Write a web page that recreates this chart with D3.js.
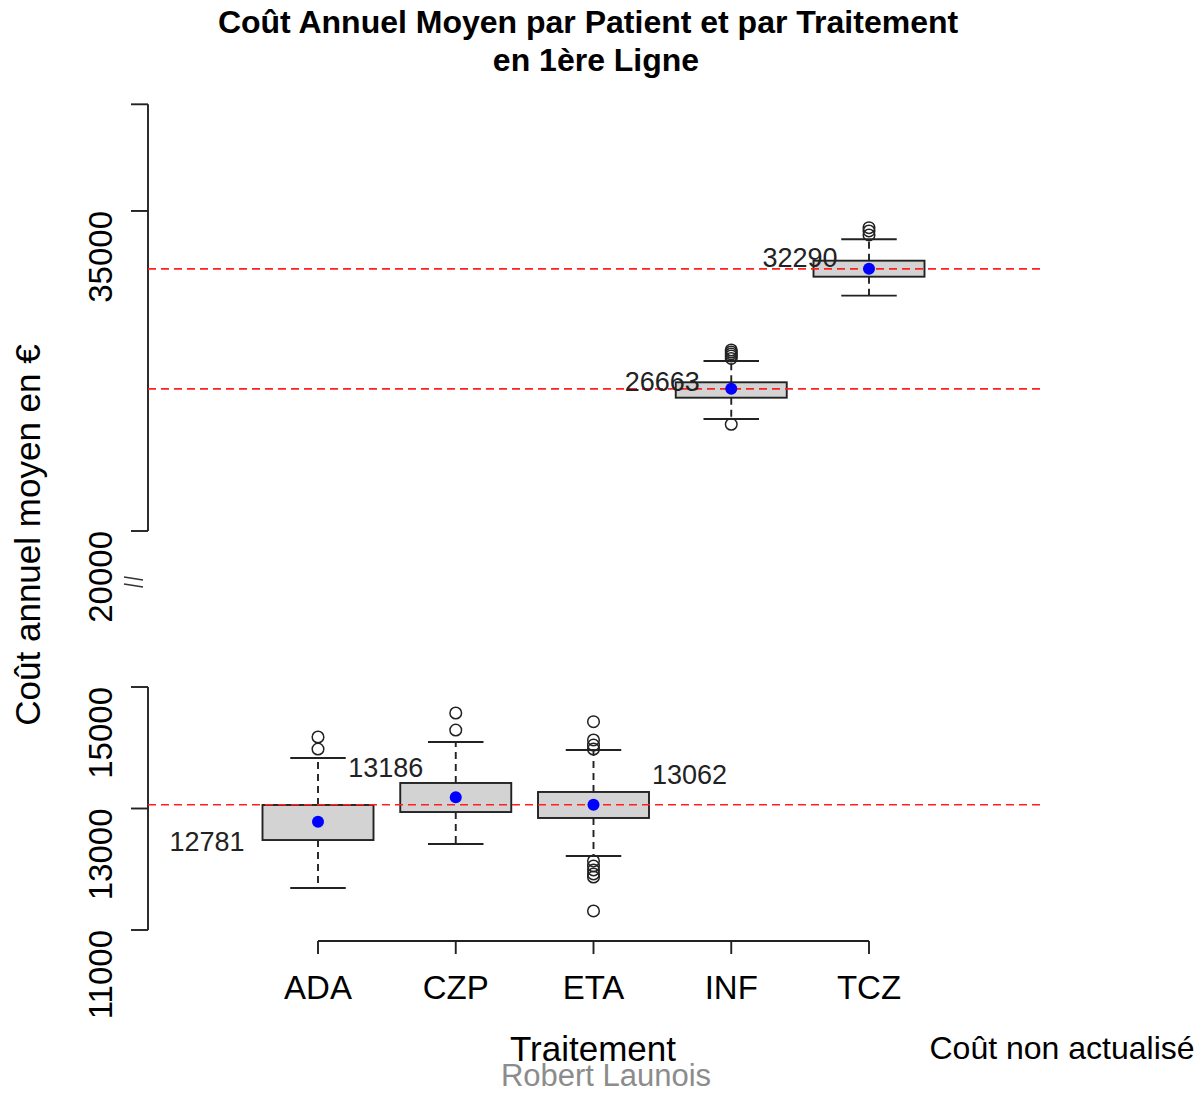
<!DOCTYPE html>
<html>
<head>
<meta charset="utf-8">
<script src="https://cdn.jsdelivr.net/npm/d3@7"></script>
<style>
  body { margin: 0; background: #fff; }
  svg text { font-family: "Liberation Sans", Arial, sans-serif; }
</style>
</head>
<body>
<svg id="main-svg" width="1196" height="1093"></svg>
<script>
// categories and box statistics
var traitements = ["ADA", "CZP", "ETA", "INF", "TCZ"];
var moyennes = [12781, 13186, 13062, 26663, 32290];
var q1 = [12481, 12942, 12844, 26248, 31920];
var q3 = [13058, 13420, 13272, 26970, 32670];
var whiskLow = [11691, 12416, 12218, 25250, 31030];
var whiskHigh = [13831, 14095, 13963, 27969, 33673];
var outliers = [
    [14177, 13979],
    [14572, 14292],
    [14429, 14128, 14045, 13979, 12136, 12053, 11988, 11922, 11872, 11313],
    [28484, 28390, 28297, 28203, 28086, 25002],
    [34217, 34063, 33875]
];
// reference lines (means of ETA, INF, TCZ)
var refLines = [13062, 26663, 32290];
var lowTicks = [11000, 13000, 15000];
var highTicks = [20000, 35000, 40000];
var highLabels = [20000, 35000];

var svg = d3.select("#main-svg");

// gapped y axis : two linear pieces
var yLow = d3.scaleLinear().domain([11000, 15000]).range([930, 687]);
var yHigh = d3.scaleLinear().domain([20000, 40000]).range([531, 104.3]);
function y(v) { return v < 17500 ? yLow(v) : yHigh(v); }

var x = d3.scalePoint().domain(traitements).range([318, 869]);
var boxW = 111;
var lw = 1.9;

// title
svg.append("text").attr("x", 588).attr("y", 33).attr("text-anchor", "middle")
    .style("font-size", "32px").style("font-weight", "bold")
    .text("Coût Annuel Moyen par Patient et par Traitement");
svg.append("text").attr("x", 596).attr("y", 71).attr("text-anchor", "middle")
    .style("font-size", "32px").style("font-weight", "bold")
    .text("en 1ère Ligne");

// y axis (two segments)
var axisX = 148;
function drawAxisPart(scale, ticks, labels) {
    var g = svg.append("g");
    var r = scale.range();
    g.append("line").attr("x1", axisX).attr("x2", axisX)
        .attr("y1", r[0]).attr("y2", r[1])
        .attr("stroke", "#222").attr("stroke-width", lw);
    ticks.forEach(function (t) {
        g.append("line").attr("x1", axisX - 17).attr("x2", axisX)
            .attr("y1", scale(t)).attr("y2", scale(t))
            .attr("stroke", "#222").attr("stroke-width", lw);
    });
    labels.forEach(function (t) {
        g.append("text")
            .attr("transform", "translate(112," + scale(t) + ") rotate(-90)")
            .attr("text-anchor", "end")
            .style("font-size", "33px")
            .text(t);
    });
}
drawAxisPart(yLow, lowTicks, lowTicks);
drawAxisPart(yHigh, highTicks, highLabels);

// gap mark
svg.append("line").attr("x1", 124).attr("y1", 577).attr("x2", 143).attr("y2", 580)
    .attr("stroke", "#333").attr("stroke-width", 1.6);
svg.append("line").attr("x1", 124).attr("y1", 584).attr("x2", 143).attr("y2", 587)
    .attr("stroke", "#333").attr("stroke-width", 1.6);

svg.append("text")
    .attr("transform", "translate(40,535) rotate(-90)")
    .attr("text-anchor", "middle")
    .style("font-size", "35px")
    .text("Coût annuel moyen en €");

// x axis
var xa = svg.append("g");
xa.append("line").attr("x1", x("ADA")).attr("x2", x("TCZ"))
    .attr("y1", 941).attr("y2", 941).attr("stroke", "#222").attr("stroke-width", lw);
traitements.forEach(function (t) {
    xa.append("line").attr("x1", x(t)).attr("x2", x(t))
        .attr("y1", 941).attr("y2", 954).attr("stroke", "#222").attr("stroke-width", lw);
    xa.append("text").attr("x", x(t)).attr("y", 999).attr("text-anchor", "middle")
        .style("font-size", "33px").text(t);
});

// boxes
var boxes = svg.append("g");
traitements.forEach(function (t, i) {
    var cx = x(t);
    // whiskers
    boxes.append("line").attr("x1", cx).attr("x2", cx)
        .attr("y1", y(q3[i])).attr("y2", y(whiskHigh[i]))
        .attr("stroke", "#222").attr("stroke-width", lw).attr("stroke-dasharray", "7,5");
    boxes.append("line").attr("x1", cx).attr("x2", cx)
        .attr("y1", y(q1[i])).attr("y2", y(whiskLow[i]))
        .attr("stroke", "#222").attr("stroke-width", lw).attr("stroke-dasharray", "7,5");
    [whiskHigh[i], whiskLow[i]].forEach(function (w) {
        boxes.append("line").attr("x1", cx - boxW / 4).attr("x2", cx + boxW / 4)
            .attr("y1", y(w)).attr("y2", y(w))
            .attr("stroke", "#222").attr("stroke-width", lw);
    });
    boxes.append("rect").attr("x", cx - boxW / 2).attr("width", boxW)
        .attr("y", y(q3[i])).attr("height", y(q1[i]) - y(q3[i]))
        .attr("fill", "#d3d3d3").attr("stroke", "#222").attr("stroke-width", lw);
    outliers[i].forEach(function (o) {
        boxes.append("circle").attr("cx", cx).attr("cy", y(o)).attr("r", 5.8)
            .attr("fill", "none").attr("stroke", "#222").attr("stroke-width", 1.5);
    });
});

// reference lines
refLines.forEach(function (v) {
    svg.append("line").attr("x1", axisX).attr("x2", 1042)
        .attr("y1", y(v)).attr("y2", y(v))
        .attr("stroke", "#ff2020").attr("stroke-width", 1.7).attr("stroke-dasharray", "8,5");
});

// means
var labelOffsets = [[-111, 19], [-70, -30], [96, -30], [-69, -8], [-69, -12]];
traitements.forEach(function (t, i) {
    svg.append("circle").attr("cx", x(t)).attr("cy", y(moyennes[i])).attr("r", 6)
        .attr("fill", "#0000ff");
    svg.append("text")
        .attr("x", x(t) + labelOffsets[i][0])
        .attr("y", y(moyennes[i]) + labelOffsets[i][1])
        .attr("dy", "0.36em")
        .attr("text-anchor", "middle")
        .style("font-size", "27px").style("fill", "#222")
        .text(moyennes[i]);
});

// footer texts
svg.append("text").attr("x", 593).attr("y", 1061).attr("text-anchor", "middle")
    .style("font-size", "35px").text("Traitement");
svg.append("text").attr("x", 1062).attr("y", 1059).attr("text-anchor", "middle")
    .style("font-size", "32px").text("Coût non actualisé");
svg.append("text").attr("x", 606).attr("y", 1086).attr("text-anchor", "middle")
    .style("font-size", "31px").style("fill", "#8c8c8c").text("Robert Launois");
</script>
</body>
</html>
